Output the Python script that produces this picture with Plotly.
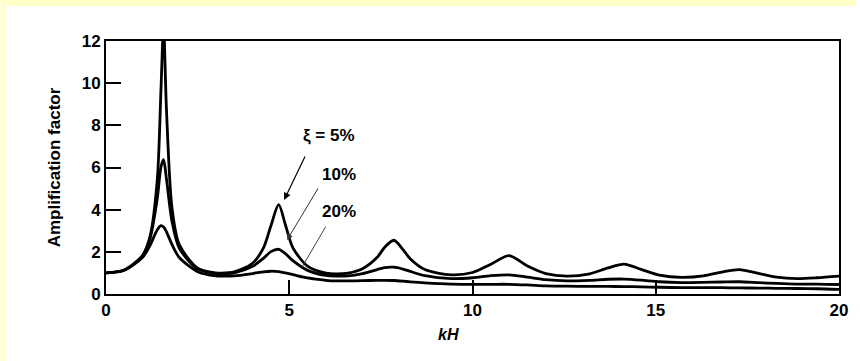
import plotly.graph_objects as go

# kH sample positions
kH = [0, 0.5, 1.0, 1.2, 1.4, 1.5, 1.571, 1.65, 1.8, 2.0, 2.5, 3.0, 3.14, 3.5, 4.0, 4.3, 4.5,
      4.712, 4.9, 5.1, 5.5, 6.0, 6.28, 6.6, 7.0, 7.4, 7.6, 7.854, 8.1, 8.3, 8.7, 9.42, 10.0,
      10.5, 10.996, 11.5, 12.0, 12.57, 13.2, 13.7, 14.137, 14.6, 15.1, 15.71, 16.3, 16.8,
      17.28, 17.8, 18.3, 18.85, 19.4, 20.0]

amp_5 = [1.0, 1.14, 1.84, 2.72, 5.44, 9.70, 12.7, 8.74, 4.09, 2.34, 1.23, 1.0, 0.99, 1.05,
         1.46, 2.20, 3.24, 4.24, 3.25, 2.19, 1.32, 0.99, 0.95, 0.99, 1.20, 1.74, 2.21, 2.55,
         2.12, 1.67, 1.16, 0.91, 1.02, 1.41, 1.82, 1.33, 0.97, 0.85, 0.96, 1.24, 1.42, 1.17,
         0.90, 0.79, 0.86, 1.04, 1.16, 0.98, 0.80, 0.73, 0.77, 0.85]

amp_10 = [1.0, 1.14, 1.82, 2.62, 4.54, 6.03, 6.37, 5.46, 3.45, 2.17, 1.19, 0.97, 0.95, 1.0,
          1.31, 1.70, 2.01, 2.12, 1.91, 1.58, 1.12, 0.88, 0.85, 0.86, 0.97, 1.16, 1.25, 1.27,
          1.18, 1.07, 0.87, 0.73, 0.77, 0.87, 0.91, 0.80, 0.68, 0.62, 0.65, 0.70, 0.71, 0.66,
          0.58, 0.54, 0.55, 0.57, 0.58, 0.54, 0.50, 0.47, 0.47, 0.45]

amp_20 = [1.0, 1.13, 1.74, 2.30, 3.05, 3.24, 3.18, 2.95, 2.35, 1.73, 1.06, 0.86, 0.85, 0.86,
          0.97, 1.05, 1.08, 1.06, 1.0, 0.92, 0.76, 0.65, 0.62, 0.62, 0.63, 0.65, 0.65, 0.64,
          0.61, 0.58, 0.53, 0.47, 0.46, 0.46, 0.46, 0.43, 0.39, 0.37, 0.36, 0.36, 0.35, 0.34,
          0.32, 0.30, 0.30, 0.30, 0.29, 0.28, 0.27, 0.26, 0.25, 0.22]

y_ticks = [0, 2, 4, 6, 8, 10, 12]
x_ticks = [0, 5, 10, 15, 20]

FONT = "Liberation Sans, Arial, sans-serif"
PW, PH = 737, 253  # plot area size in px

fig = go.Figure()
for name, vals in [("ξ = 5%", amp_5), ("10%", amp_10), ("20%", amp_20)]:
    fig.add_trace(go.Scatter(x=kH, y=vals, mode="lines", name=name,
                             line=dict(color="black", width=2.8, shape="spline", smoothing=0.8),
                             showlegend=False, hoverinfo="skip"))

axis_common = dict(showline=True, linecolor="black", linewidth=2, mirror=True,
                   showgrid=False, zeroline=False, ticks="inside", tickcolor="black",
                   tickwidth=1.5, tickfont=dict(family=FONT, size=17, color="black", weight="bold"))

fig.update_xaxes(range=[0, 20], tickvals=x_ticks, ticklen=14, **axis_common)
fig.update_yaxes(range=[0, 12], tickvals=y_ticks, ticklen=15,
                 title=dict(text="<b>Amplification factor</b>",
                            font=dict(family=FONT, size=17, color="black"),
                            standoff=17), **axis_common)

# x-axis title (sits a little left of centre in the original)
fig.add_annotation(x=(450 - 106) / PW, y=-(345 - 294) / PH, xref="paper", yref="paper",
                   text="<b><i>kH</i></b>", showarrow=False,
                   font=dict(family=FONT, size=16, color="black"))

ann_font = dict(family=FONT, size=17, color="black", weight="bold")
fig.add_annotation(x=4.86, y=4.46, ax=5.45, ay=6.59, axref="x", ayref="y", xref="x", yref="y",
                   text="", showarrow=True, arrowhead=2, arrowsize=1.2, arrowwidth=1.2, arrowcolor="black")
fig.add_annotation(x=4.94, y=2.56, ax=5.81, ay=5.08, axref="x", ayref="y", xref="x", yref="y",
                   text="", showarrow=True, arrowhead=2, arrowsize=1.2, arrowwidth=1, arrowcolor="#333")
fig.add_annotation(x=5.35, y=1.28, ax=6.02, ay=3.27, axref="x", ayref="y", xref="x", yref="y",
                   text="", showarrow=True, arrowhead=0, arrowwidth=1, arrowcolor="#444")
fig.add_annotation(x=6.08, y=7.54, xref="x", yref="y", text="ξ = 5%", showarrow=False, font=ann_font)
fig.add_annotation(x=6.35, y=5.65, xref="x", yref="y", text="10%", showarrow=False, font=ann_font)
fig.add_annotation(x=6.35, y=3.89, xref="x", yref="y", text="20%", showarrow=False, font=ann_font)

fig.update_layout(
    width=860, height=361,
    margin=dict(l=106, r=17, t=41, b=67),
    paper_bgcolor="white", plot_bgcolor="white",
    font=dict(family=FONT, color="black"),
)
# light yellow scan border (left and top edges)
fig.add_shape(type="rect", xref="paper", yref="paper", x0=-106 / PW, x1=-101 / PW,
              y0=-67 / PH, y1=1 + 41 / PH, layer="below", line=dict(width=0), fillcolor="#FFFFC8")
fig.add_shape(type="rect", xref="paper", yref="paper", x0=-106 / PW, x1=1 + 17 / PW,
              y0=1 + 35 / PH, y1=1 + 41 / PH, layer="below", line=dict(width=0), fillcolor="#FFFFC8")

fig.write_html("out.html", config={"displayModeBar": False},
               post_script="document.body.style.margin='0px';")
